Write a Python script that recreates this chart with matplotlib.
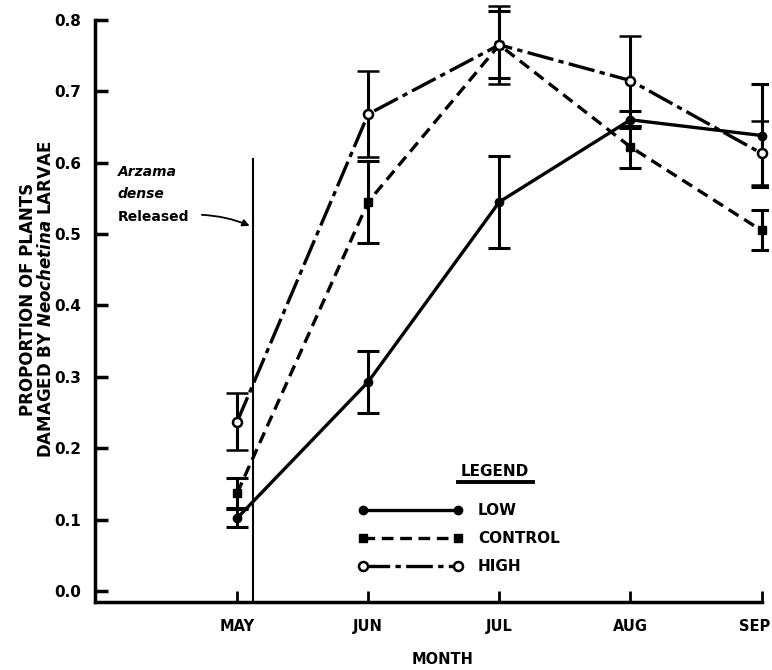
import matplotlib
matplotlib.use("Agg")
import matplotlib.pyplot as plt
import matplotlib.transforms as mtransforms
from matplotlib.lines import Line2D

plt.rcParams["font.family"] = ["DejaVu Sans"]
plt.rcParams["font.weight"] = "bold"
plt.rcParams["mathtext.fontset"] = "custom"
plt.rcParams["mathtext.it"] = "DejaVu Sans:italic:bold"
plt.rcParams["mathtext.rm"] = "DejaVu Sans:bold"

months = ["MAY", "JUN", "JUL", "AUG", "SEP"]
month_pos = [5, 6, 7, 8, 9]

low = [0.102, 0.293, 0.545, 0.660, 0.638]
low_err = [0.013, 0.043, 0.064, 0.012, 0.072]
control = [0.137, 0.545, 0.765, 0.622, 0.505]
control_err = [0.021, 0.058, 0.047, 0.030, 0.028]
high = [0.237, 0.668, 0.765, 0.715, 0.613]
high_err = [0.040, 0.060, 0.055, 0.063, 0.045]

release_month = 5.125
release_top = 0.605

fig = plt.figure(figsize=(7.72, 6.70), dpi=100)
ax = fig.add_axes([0.123, 0.1015, 0.872, 0.8955])

ymin = -0.0154
ax.set_xlim(3.916, 9.05)
ax.set_ylim(ymin, 0.825)

lw = 2.4
dash_control = (0, (3.5, 2))
dash_high = (0, (8, 1.6, 1.6, 1.6))
err_kw = dict(ecolor="black", elinewidth=2.2, capsize=8, capthick=2.2)

ax.errorbar(month_pos, low, yerr=low_err, color="black", lw=lw, ls="-",
            marker="o", ms=6, mfc="black", **err_kw)
ax.errorbar(month_pos, control, yerr=control_err, color="black", lw=lw,
            ls=dash_control, marker="s", ms=6, mfc="black", **err_kw)
ax.errorbar(month_pos, high, yerr=high_err, color="black", lw=lw,
            ls=dash_high, marker="o", ms=6.5, mfc="white", mew=1.8, **err_kw)

# release marker
ax.plot([release_month, release_month], [ymin, release_top], color="black", lw=1.5)
ax.text(4.09, 0.587, "Arzama", style="italic", fontsize=10, va="center")
ax.text(4.09, 0.556, "dense", style="italic", fontsize=10, va="center")
ax.text(4.09, 0.524, "Released", fontsize=10, va="center")
ax.annotate("", xy=(release_month - 0.01, 0.51), xytext=(4.71, 0.527),
            arrowprops=dict(arrowstyle="-|>", color="black", lw=1.3,
                            connectionstyle="arc3,rad=-0.1", mutation_scale=10))

# spines and ticks
for side in ["top", "right"]:
    ax.spines[side].set_visible(False)
ax.spines["left"].set_linewidth(2.5)
ax.spines["bottom"].set_linewidth(2.5)
ax.spines["left"].set_bounds(ymin, 0.8)
ax.spines["bottom"].set_bounds(3.916, 9.0)

ax.set_xticks(month_pos)
ax.set_xticklabels(months)
ax.set_yticks([0.0, 0.1, 0.2, 0.3, 0.4, 0.5, 0.6, 0.7, 0.8])
ax.set_yticklabels(["0.0", "0.1", "0.2", "0.3", "0.4", "0.5", "0.6", "0.7", "0.8"])
ax.tick_params(axis="y", direction="in", length=9, width=2.5, pad=10, labelsize=11)
ax.tick_params(axis="x", direction="in", length=8, width=2, pad=12, labelsize=10.5)

# last month label sits at the right edge
sep_label = ax.get_xticklabels()[-1]
sep_label.set_ha("right")
sep_label.set_transform(sep_label.get_transform() +
                        mtransforms.ScaledTranslation(9 / 100, 0, fig.dpi_scale_trans))

ax.set_xlabel("MONTH", fontsize=10.5, fontweight="bold")
ax.xaxis.set_label_coords(0.517, -0.083)
ax.set_ylabel("PROPORTION OF PLANTS\nDAMAGED BY $\\it{Neochetina}$ LARVAE",
              fontsize=12, fontweight="bold", linespacing=0.95)
ax.yaxis.set_label_coords(-0.06, 0.505)

# legend
handles = [
    Line2D([], [], color="black", lw=lw, ls="-", marker="o", ms=6, mfc="black"),
    Line2D([], [], color="black", lw=lw, ls=dash_control, marker="s", ms=6, mfc="black"),
    Line2D([], [], color="black", lw=lw, ls=dash_high, marker="o",
           ms=6.5, mfc="white", mew=1.8),
]
ax.legend(handles, ["LOW", "CONTROL", "HIGH"], loc="upper left",
          bbox_to_anchor=(0.392, 0.165), frameon=False, numpoints=2,
          borderpad=0, borderaxespad=0,
          handlelength=6.8, handletextpad=1.0, labelspacing=0.85, fontsize=11)
ax.text(0.594, 0.217, "LEGEND", transform=ax.transAxes, fontsize=11,
        fontweight="bold", ha="center", va="center")
ax.plot([0.539, 0.651], [0.2, 0.2], transform=ax.transAxes, color="black",
        lw=2.8, clip_on=False)

fig.savefig("out.png", dpi=100)
